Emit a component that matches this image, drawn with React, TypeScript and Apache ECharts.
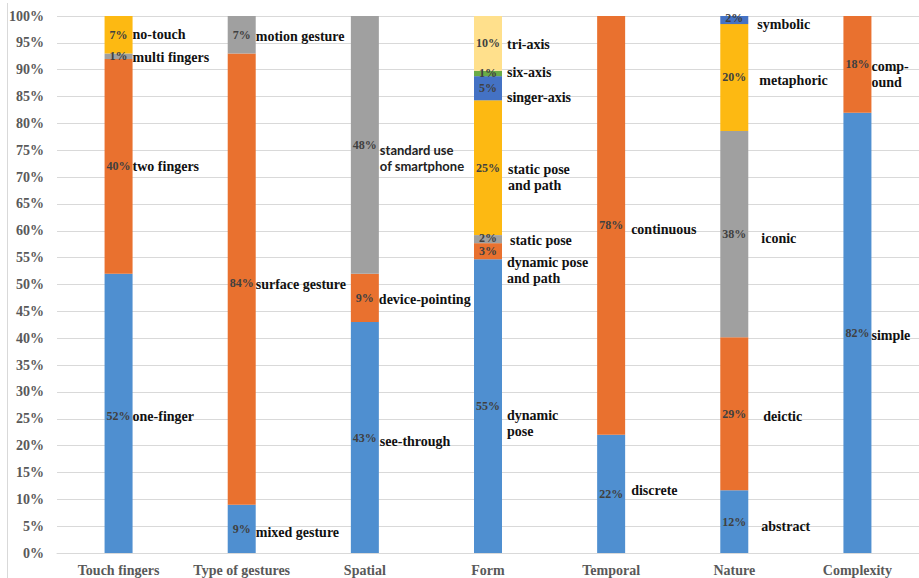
import { useEffect, useRef } from 'react';
import * as echarts from 'echarts';

// Categories along the x axis
const categories = [
  'Touch fingers',
  'Type of gestures',
  'Spatial',
  'Form',
  'Temporal',
  'Nature',
  'Complexity',
];

// Share of each sub-type (percent), listed bottom-to-top within each bar
const touchValues = [52, 40, 1, 7];
const touchNames = ['one-finger', 'two fingers', 'multi fingers', 'no-touch'];

const gestureValues = [9, 84, 7];
const gestureNames = ['mixed gesture', 'surface gesture', 'motion gesture'];

const spatialValues = [43, 9, 48];
const spatialNames = ['see-through', 'device-pointing', 'standard use\nof smartphone'];

const formValues = [54.7, 3, 1.5, 25.1, 4.5, 1, 10.2];
const formNames = [
  'dynamic\npose',
  'dynamic pose\nand path',
  'static pose',
  'static pose\nand path',
  'singer-axis',
  'six-axis',
  'tri-axis',
];

const temporalValues = [22, 78];
const temporalNames = ['discrete', 'continuous'];

const natureValues = [11.7, 28.5, 38.4, 19.9, 1.5];
const natureNames = ['abstract', 'deictic', 'iconic', 'metaphoric', 'symbolic'];

const complexityValues = [82, 18];
const complexityNames = ['simple', 'comp-\nound'];

// Y axis ticks (percent)
const yTicks = { min: 0, max: 100, step: 5 };

// Segment colours by stack level
const palette = ['#4F8FD0', '#E9712F', '#A0A0A0', '#FDB912', '#4472C4', '#6AAB46', '#FFE08C'];

// Label placement tweaks: [distance from bar edge, vertical shift]
const nameLayout = [
  [[0, 3], [0, 0], [0, 1], [0, 0]],
  [[0, 4], [0, 5], [0, 2]],
  [[1, 4], [0, 2], [1, 13]],
  [[5, 17], [5, 19], [8, 1], [6, 10], [5, 9], [5, -1], [5, 1]],
  [[6, -3], [6, 4]],
  [[13, 5], [15, 3], [13, 4], [11, 3], [9, 4]],
  [[0, 3], [0, 10]],
];
const pctShift = [
  [3, 0, 0, 0],
  [0, 4, 0],
  [0, 0, 0],
  [0, 0, -1, 0, 0, 0, 0],
  [0, 0],
  [0, 0, 0, 0, -2],
  [0, 0],
];

const valueTable = [
  touchValues,
  gestureValues,
  spatialValues,
  formValues,
  temporalValues,
  natureValues,
  complexityValues,
];
const nameTable = [
  touchNames,
  gestureNames,
  spatialNames,
  formNames,
  temporalNames,
  natureNames,
  complexityNames,
];

const SERIF = "'Liberation Serif', 'Times New Roman', serif";
const SANS = "Lato, 'Open Sans', sans-serif";

export default function App() {
  const ref = useRef<HTMLDivElement>(null);

  useEffect(() => {
    if (!ref.current) return;
    const chart = echarts.init(ref.current, undefined, { renderer: 'svg' });
    const levels = Math.max(...valueTable.map((v) => v.length));

    const series: any[] = [];
    // Visible stacked bars with percentage labels
    for (let lv = 0; lv < levels; lv++) {
      series.push({
        type: 'bar',
        name: 'level' + lv,
        stack: 'share',
        xAxisIndex: 0,
        barWidth: 28,
        itemStyle: { color: palette[lv] },
        label: {
          show: true,
          position: 'inside',
          fontFamily: SERIF,
          fontWeight: 'bold',
          fontSize: 12,
          color: '#404040',
          formatter: (p: any) => Math.round(p.value) + '%',
        },
        data: valueTable.map((vals, ci) =>
          vals[lv] === undefined
            ? '-'
            : { value: vals[lv], label: { offset: [0, pctShift[ci][lv]] } }
        ),
      });
    }
    // Transparent overlay stack carrying the sub-type names beside each segment
    for (let lv = 0; lv < levels; lv++) {
      series.push({
        type: 'bar',
        name: 'names' + lv,
        stack: 'names',
        xAxisIndex: 1,
        barWidth: 28,
        silent: true,
        itemStyle: { color: 'rgba(0,0,0,0)' },
        label: {
          show: true,
          position: 'right',
          fontFamily: SERIF,
          fontWeight: 'bold',
          fontSize: 14,
          lineHeight: 16,
          color: '#111111',
          formatter: (p: any) => nameTable[p.dataIndex][lv],
        },
        data: valueTable.map((vals, ci) => {
          if (vals[lv] === undefined) return '-';
          const [dist, dy] = nameLayout[ci][lv];
          const sans = ci === 2 && lv === 2;
          return {
            value: vals[lv],
            label: {
              distance: dist,
              offset: [0, dy],
              ...(sans
                ? { fontFamily: SANS, fontWeight: 'bold', fontSize: 13, color: '#222222' }
                : {}),
            },
          };
        }),
      });
    }

    chart.setOption({
      animation: false,
      grid: { left: 57, top: 16, width: 864, height: 537, containLabel: false },
      xAxis: [
        {
          type: 'category',
          data: categories,
          axisLine: { show: true, lineStyle: { color: '#d9d9d9', width: 1 } },
          axisTick: { show: false },
          axisLabel: {
            interval: 0,
            margin: 10,
            fontFamily: SERIF,
            fontWeight: 'bold',
            fontSize: 14,
            color: '#595959',
          },
        },
        { type: 'category', data: categories, show: false },
      ],
      yAxis: {
        type: 'value',
        min: yTicks.min,
        max: yTicks.max,
        interval: yTicks.step,
        axisLine: { show: false },
        axisTick: { show: false },
        splitLine: { lineStyle: { color: '#d9d9d9', width: 1 } },
        axisLabel: {
          margin: 13,
          formatter: '{value}%',
          fontFamily: SERIF,
          fontWeight: 'bold',
          fontSize: 14,
          color: '#595959',
        },
      },
      graphic: [
        {
          type: 'line',
          shape: { x1: 7.5, y1: 3, x2: 7.5, y2: 578 },
          style: { stroke: '#d9d9d9', lineWidth: 1 },
          silent: true,
        },
      ],
      series,
    });

    return () => chart.dispose();
  }, []);

  return (
    <div
      ref={ref}
      style={{ position: 'absolute', left: 0, top: 0, width: 919, height: 578, background: '#ffffff' }}
    />
  );
}
